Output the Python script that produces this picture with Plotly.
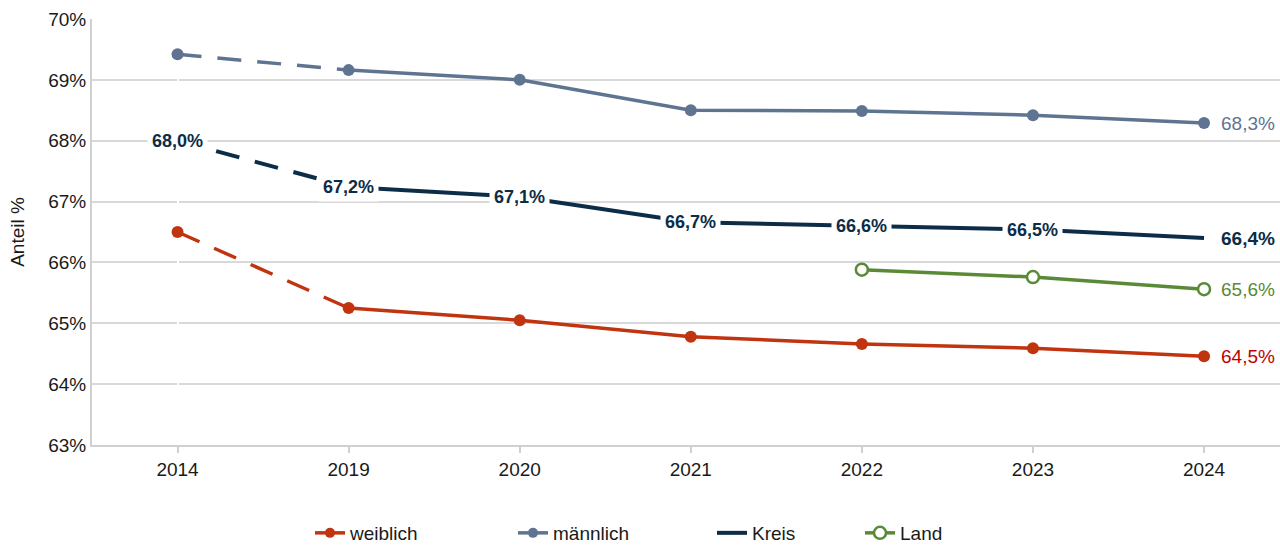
import plotly.graph_objects as go

years = ["2014", "2019", "2020", "2021", "2022", "2023", "2024"]
weiblich = [66.50, 65.25, 65.05, 64.78, 64.66, 64.59, 64.46]
maennlich = [69.42, 69.16, 69.00, 68.50, 68.49, 68.42, 68.29]
kreis = [68.00, 67.24, 67.08, 66.66, 66.60, 66.54, 66.40]
kreis_labels = ["68,0%", "67,2%", "67,1%", "66,7%", "66,6%", "66,5%", "66,4%"]
land_years = ["2022", "2023", "2024"]
land = [65.88, 65.76, 65.56]

C_W = "#C0340F"
C_M = "#5E7491"
C_K = "#0C2C48"
C_L = "#5A8A36"
FONT = "Liberation Sans, Arial, sans-serif"

xi = {y: i for i, y in enumerate(years)}
X = list(range(len(years)))
LX = [xi[y] for y in land_years]

fig = go.Figure()
DASH = "24px,16px"

def add_series(vals, color, name, legend, markers, width):
    mode = "lines+markers" if markers else "lines"
    mk = dict(size=12, color=color)
    fig.add_trace(go.Scatter(x=X[:2], y=vals[:2], mode="lines", line=dict(color=color, width=width, dash=DASH),
                             showlegend=False, hoverinfo="skip"))
    fig.add_trace(go.Scatter(x=X[1:], y=vals[1:], mode=mode, line=dict(color=color, width=width),
                             marker=mk, showlegend=False))
    if markers:
        fig.add_trace(go.Scatter(x=X[:1], y=vals[:1], mode="markers", marker=mk, showlegend=False))
    fig.add_trace(go.Scatter(x=[None], y=[None], mode=mode, name=name, line=dict(color=color, width=width),
                             marker=dict(size=10, color=color), legend=legend))

add_series(weiblich, C_W, "weiblich", "legend", True, 3.5)
add_series(maennlich, C_M, "männlich", "legend2", True, 3.5)
add_series(kreis, C_K, "Kreis", "legend3", False, 4)

fig.add_trace(go.Scatter(x=LX, y=land, mode="lines+markers", name="Land",
                         line=dict(color=C_L, width=3.5),
                         marker=dict(size=12, color="white", line=dict(color=C_L, width=2.5)),
                         legend="legend4"))

for i, (v, t) in enumerate(zip(kreis, kreis_labels)):
    if i == len(kreis) - 1:
        fig.add_annotation(x=X[i], y=v, text="<b>%s</b>" % t, showarrow=False, xanchor="left", xshift=15,
                           font=dict(family=FONT, size=19, color=C_K))
    else:
        fig.add_annotation(x=X[i], y=v, text="<b>%s</b>" % t, showarrow=False, bgcolor="white", borderpad=4,
                           font=dict(family=FONT, size=18, color=C_K))

def end_label(v, color):
    fig.add_annotation(x=X[-1], y=v, text=("%.1f%%" % v).replace(".", ","), showarrow=False, xanchor="left",
                       xshift=15, font=dict(family=FONT, size=19, color=color))

end_label(maennlich[-1], C_M)
end_label(land[-1], C_L)
end_label(weiblich[-1], "#C00000")

leg_common = dict(orientation="h", yanchor="middle", yref="container", y=(545 - 533) / 545,
                  xref="container", xanchor="left",
                  font=dict(family=FONT, size=19, color="#1A1A1A"), bgcolor="rgba(0,0,0,0)",
                  itemwidth=30, tracegroupgap=0)
lx = [p / 1280 for p in (310, 513, 712, 860)]
fig.update_layout(
    legend=dict(x=lx[0], **leg_common),
    legend2=dict(x=lx[1], **leg_common),
    legend3=dict(x=lx[2], **leg_common),
    legend4=dict(x=lx[3], **leg_common),
)

fig.update_layout(
    width=1280, height=545,
    margin=dict(l=92, r=0, t=19, b=100),
    paper_bgcolor="white", plot_bgcolor="white",
    font=dict(family=FONT, size=19, color="#1A1A1A"),
    xaxis=dict(tickmode="array", tickvals=X, ticktext=years, range=[-0.5, 6.444], automargin=False,
               showgrid=False, showline=True, linecolor="#D0D0D0", linewidth=2,
               ticks="outside", tickson="boundaries", ticklen=6, tickcolor="#D0D0D0", tickwidth=2,
               tickfont=dict(family=FONT, size=19, color="#1A1A1A")),
    yaxis=dict(range=[63, 70], dtick=1, tick0=63, ticksuffix="%", showgrid=True, gridcolor="#D9D9D9",
               gridwidth=2, showline=True, linecolor="#D0D0D0", linewidth=2, zeroline=False, automargin=False,
               ticks="", tickfont=dict(family=FONT, size=19, color="#1A1A1A"),
               title=dict(text="Anteil %", font=dict(family=FONT, size=19, color="#1A1A1A"), standoff=19)),
)

fig.write_html("out.html", config={"displayModeBar": False},
               post_script="document.body.style.margin='0';document.body.style.overflow='hidden';")
